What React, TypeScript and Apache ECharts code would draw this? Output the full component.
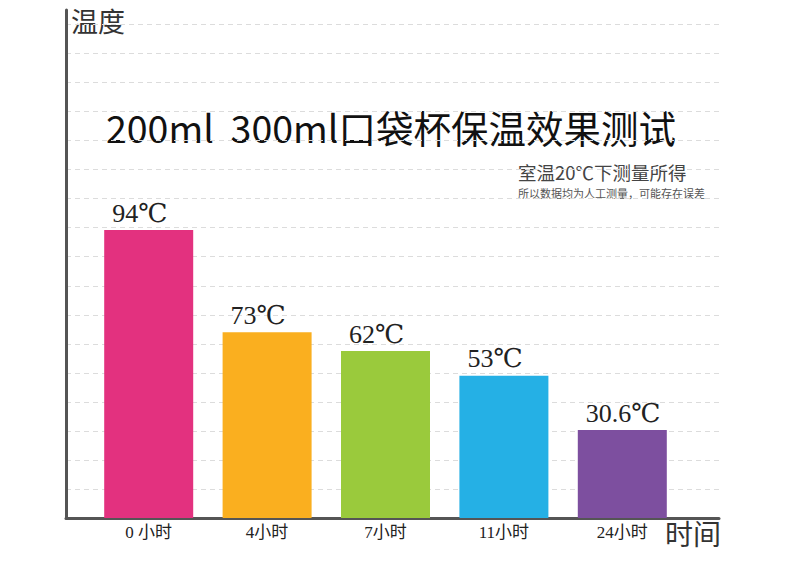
import React, { useEffect, useRef } from "react";
import * as echarts from "echarts";

const categories = ["0 小时", "4小时", "7小时", "11小时", "24小时"];
const temperatures = ["94", "73", "62", "53", "30.6"];
// bar heights in gridline units, as drawn in the picture
const barHeights = [9.92, 6.4, 5.75, 4.9, 3.03];
const barColors = ["#e3317f", "#faaf1f", "#9aca3c", "#25b0e5", "#7d4f9f"];
const titleText = "200ml  300ml口袋杯保温效果测试";
const subTitle = "室温20℃下测量所得";
const noteText = "所以数据均为人工测量，可能存在误差";
const yName = "温度";
const xName = "时间";

const SERIF = "'Liberation Serif', 'DejaVu Serif', 'Noto Sans CJK SC', serif";
const SANS = "'Noto Sans CJK SC', sans-serif";

export default function App() {
  const ref = useRef<HTMLDivElement>(null);
  useEffect(() => {
    const chart = echarts.init(ref.current!, null, { renderer: "svg" });
    chart.setOption({
      animation: false,
      backgroundColor: "#ffffff",
      grid: [
        { left: 66, right: 81, top: 10, bottom: 52 },
        { left: 89.5, right: 118.5, top: 10, bottom: 52 },
      ],
      xAxis: [
        {
          gridIndex: 0,
          type: "value",
          min: 0,
          max: 1,
          axisLine: { show: true, lineStyle: { color: "#555", width: 3 } },
          axisTick: { show: false },
          axisLabel: { show: false },
          splitLine: { show: false },
        },
        {
          gridIndex: 1,
          type: "category",
          data: categories,
          axisLine: { show: false },
          axisTick: { show: false },
          axisLabel: {
            margin: 6,
            fontSize: 17,
            color: "#222",
            fontFamily: SERIF,
          },
        },
      ],
      yAxis: [
        {
          gridIndex: 0,
          type: "value",
          min: 0,
          max: 17.5,
          interval: 1,
          axisLine: { show: true, lineStyle: { color: "#555", width: 3 } },
          axisTick: { show: false },
          axisLabel: { show: false },
          splitLine: {
            show: true,
            showMaxLine: false,
            lineStyle: { color: "#dcdcdc", type: [5, 4], width: 1 },
          },
        },
        {
          gridIndex: 1,
          type: "value",
          min: 0,
          max: 17.5,
          show: false,
          splitLine: { show: false },
        },
      ],
      series: [
        {
          type: "bar",
          xAxisIndex: 1,
          yAxisIndex: 1,
          barWidth: 89,
          data: barHeights.map((h, i) => ({
            value: h,
            itemStyle: { color: barColors[i] },
          })),
          label: {
            show: true,
            position: [8, -4],
            align: "left",
            verticalAlign: "bottom",
            fontSize: 26,
            color: "#222",
            fontFamily: SERIF,
            formatter: (p: any) => temperatures[p.dataIndex] + "℃",
          },
        },
      ],
      graphic: [
        {
          type: "text",
          left: 71,
          top: 7,
          style: { text: yName, fontSize: 27, fill: "#333", fontFamily: SANS },
        },
        {
          type: "text",
          left: 665,
          top: 519,
          style: { text: xName, fontSize: 28, fill: "#333", fontFamily: SANS },
        },
        {
          type: "text",
          left: 106,
          top: 108,
          style: { text: titleText, fontSize: 37.5, fill: "#111", fontFamily: SANS },
        },
        {
          type: "text",
          left: 518,
          top: 163,
          style: { text: subTitle, fontSize: 18.5, lineHeight: 18.5, fill: "#444", fontFamily: SANS },
        },
        {
          type: "text",
          left: 518,
          top: 187,
          style: { text: noteText, fontSize: 11, lineHeight: 11, fill: "#555", fontFamily: SANS },
        },
      ],
    });
    return () => chart.dispose();
  }, []);
  return (
    <div
      ref={ref}
      style={{ position: "absolute", left: 0, top: 0, width: 800, height: 570 }}
    />
  );
}
